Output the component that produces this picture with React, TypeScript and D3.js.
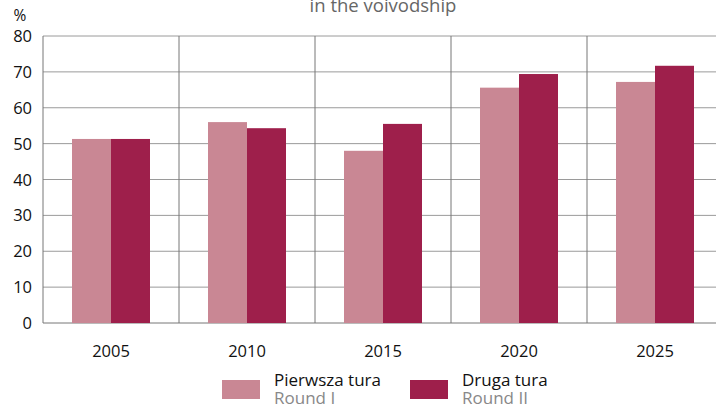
import React from "react";
import * as d3 from "d3";

const years = ["2005", "2010", "2015", "2020", "2025"];
const round1 = [51.3, 56.0, 48.0, 65.6, 67.2];
const round2 = [51.3, 54.3, 55.5, 69.4, 71.7];
const yTicks = [0, 10, 20, 30, 40, 50, 60, 70, 80];
const seriesNames = ["Pierwsza tura", "Druga tura"];
const seriesSub = ["Round I", "Round II"];
const colors = ["#C98794", "#9E1F4B"];

export default function App() {
  const W = 716, H = 408;
  const left = 43, right = 723, top = 36, bottom = 323;
  const x = d3.scaleBand().domain(years).range([left, right]).padding(0);
  const inner = d3.scaleBand().domain(["0", "1"]).range([0, 78]);
  const y = d3.scaleLinear().domain([0, 80]).range([bottom, top]);
  const font = "'Open Sans', sans-serif";
  const series = [round1, round2];
  return (
    <svg width={W} height={H} style={{ position: "absolute", left: 0, top: 0, background: "#fff" }} fontFamily={font}>
      <text x={383} y={12} textAnchor="middle" fontSize={18.5} fill="#666">in the voivodship</text>
      <text x={20} y={21} textAnchor="middle" fontSize={15.5} fill="#111">%</text>
      {yTicks.map((t) => (
        <g key={t}>
          <line x1={left} x2={W} y1={y(t)} y2={y(t)} stroke={t === 0 ? "#777" : "#9a9a9a"} strokeWidth={1} />
          <text x={32} y={y(t) + 6} textAnchor="end" fontSize={16.5} fill="#111">{t}</text>
        </g>
      ))}
      {years.map((yr) => (
        <line key={"v" + yr} x1={x(yr)!} x2={x(yr)!} y1={top} y2={bottom} stroke="#777" strokeWidth={1} />
      ))}
      {years.map((yr, i) => {
        const cx = x(yr)! + x.bandwidth() / 2 - 39;
        return (
          <g key={yr}>
            {series.map((s, k) => (
              <rect key={k} x={cx + inner(String(k))!} y={y(s[i])} width={inner.bandwidth()} height={bottom - y(s[i])} fill={colors[k]} />
            ))}
            <text x={x(yr)! + x.bandwidth() / 2} y={357} textAnchor="middle" fontSize={16.5} fill="#111">{yr}</text>
          </g>
        );
      })}
      {seriesNames.map((n, k) => {
        const lx = k === 0 ? 222 : 410;
        return (
          <g key={n}>
            <rect x={lx} y={380} width={38} height={19} fill={colors[k]} />
            <text x={lx + 52} y={386} fontSize={17} fill="#111">{n}</text>
            <text x={lx + 52} y={404} fontSize={17} fill="#888">{seriesSub[k]}</text>
          </g>
        );
      })}
    </svg>
  );
}
